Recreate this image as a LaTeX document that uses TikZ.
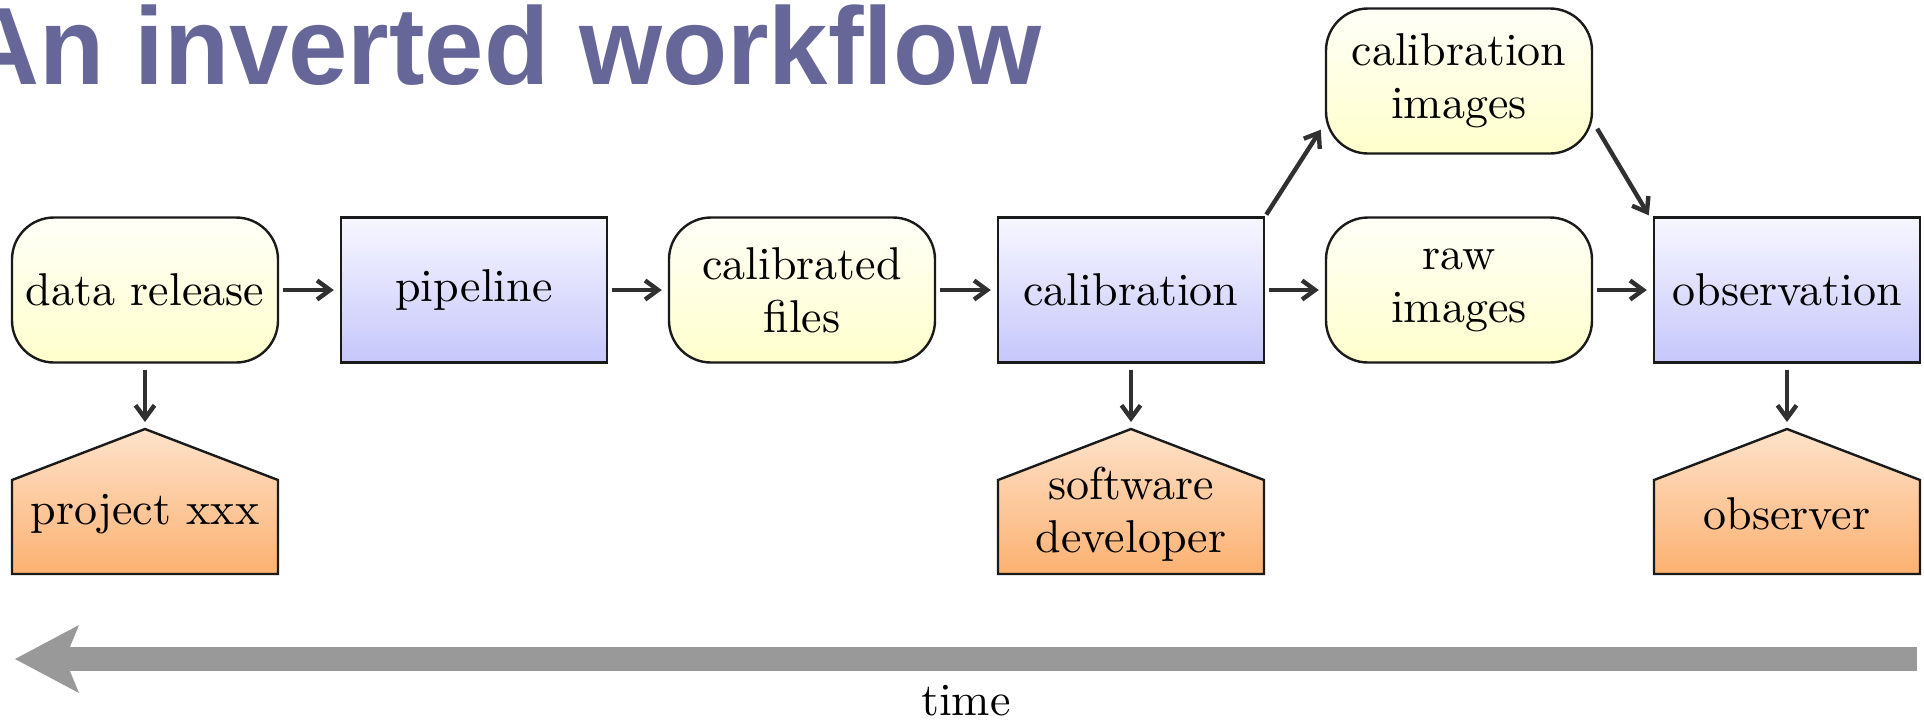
\documentclass[tikz,border=0pt]{standalone}
\usepackage{fontspec}
\setmainfont{lmroman10-regular.otf}
\newfontfamily\titlefont{Liberation Sans}
\usetikzlibrary{arrows.meta,calc,backgrounds}
\definecolor{titlecol}{HTML}{666699}
\definecolor{ytop}{HTML}{FFFFF8}
\definecolor{ybot}{HTML}{FFFFCC}
\definecolor{btop}{HTML}{F7F7FF}
\definecolor{bbot}{HTML}{C6C6FB}
\definecolor{otop}{HTML}{FDE2CA}
\definecolor{obot}{HTML}{FCB171}
\definecolor{edge}{HTML}{1A1A1A}
\definecolor{arrcol}{HTML}{303030}
\definecolor{timecol}{HTML}{999999}

\begin{document}
\begin{tikzpicture}[x=0.5pt,y=-0.5pt,
  every node/.style={font=\fontsize{23}{26.5}\selectfont, inner sep=0pt, align=center},
  box/.style={draw=edge, line width=1.2pt, minimum width=133pt, minimum height=72.5pt},
  product/.style={box, rounded corners=21pt, top color=ytop, bottom color=ybot},
  process/.style={box, top color=btop, bottom color=bbot},
  housefill/.style={draw=edge, line width=1.2pt, line join=miter, top color=otop, bottom color=obot},
  flow/.style={draw=arrcol, line width=2.2pt, -{Straight Barb[length=6.5pt,width=9.5pt]}},
]
\useasboundingbox (0,0) rectangle (1924,720);
\clip (0,0) rectangle (1924,720);

% heading
\node[anchor=base east, text=titlecol, font={\titlefont\bfseries\fontsize{55}{60}\selectfont}]
  (title) at (1042,84) {\scalebox{0.97}[1]{An inverted workflow}};

% main row: products (rounded) and processes (rectangles)
\node[product] (dr)     at (145,290)  {data release};
\node[process] (pipe)   at (474,290)  {pipeline};
\node[product] (calf)   at (802,290)  {calibrated\\files};
\node[process] (calib)  at (1131,290) {calibration};
\node[product] (raw)    at (1459,290) {raw\\images};
\node[process] (obs)    at (1787,290) {observation};
\node[product] (calimg) at (1459,81)  {calibration\\images};

% people
\node (proj) at (145,514)  {project xxx};
\node (dev)  at (1131,514) {software\\developer};
\node (obsr) at (1787,514) {observer};

\foreach \h in {proj,dev,obsr}
  \coordinate (\h-top) at ($(\h)+(0,-85)$);

\begin{scope}[on background layer]
  \foreach \h in {proj,dev,obsr}
    \shade[housefill] ($(\h)+(-133,60)$) -- ($(\h)+(-133,-34)$) -- (\h-top)
      -- ($(\h)+(133,-34)$) -- ($(\h)+(133,60)$) -- cycle;
\end{scope}

% flow arrows
\draw[flow, shorten <=2pt, shorten >=3pt] (dr.east)    -- (pipe.west);
\draw[flow, shorten <=2pt, shorten >=3pt] (pipe.east)  -- (calf.west);
\draw[flow, shorten <=2pt, shorten >=3pt] (calf.east)  -- (calib.west);
\draw[flow, shorten <=2pt, shorten >=3pt] (calib.east) -- (raw.west);
\draw[flow, shorten <=2pt, shorten >=3pt] (raw.east)   -- (obs.west);
\draw[flow, shorten <=1pt] (calib.north east) -- ($(calimg.south west)+(-4,-25)$);
\draw[flow] ($(calimg.south east)+(4,-26)$) -- ($(obs.north west)+(-4,-1)$);

\draw[flow, shorten <=3pt, shorten >=3.5pt] (dr.south)    -- (proj-top);
\draw[flow, shorten <=3pt, shorten >=3.5pt] (calib.south) -- (dev-top);
\draw[flow, shorten <=3pt, shorten >=3.5pt] (obs.south)   -- (obsr-top);

% time axis
\coordinate (tfrom) at (1917,659);
\coordinate (tto)   at (15,659);
\draw[timecol, line width=12pt, -{Stealth[length=32pt,width=34pt,inset=7pt,line width=0pt]}] (tfrom) -- (tto);
\node (time) at (966,701) {time};
\end{tikzpicture}
\end{document}
